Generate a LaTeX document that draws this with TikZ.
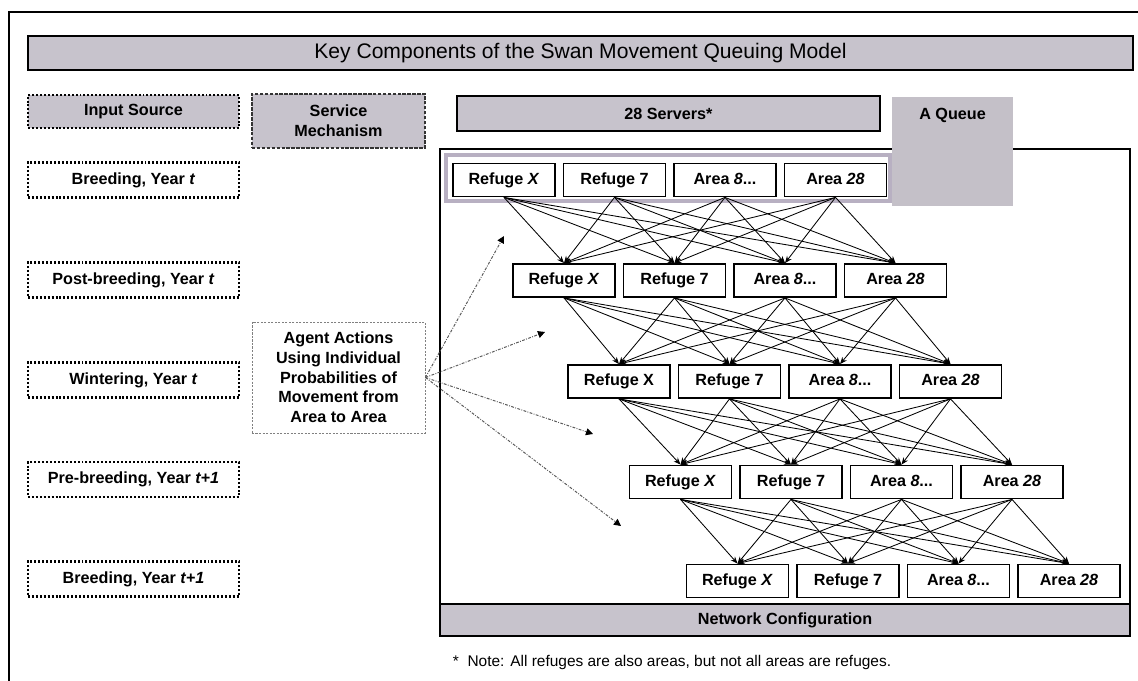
\documentclass[tikz,border=0pt]{standalone}
\usepackage{fontspec}
\setmainfont{Liberation Sans}
\usepackage{tikz}
\usetikzlibrary{calc,arrows.meta}
\usepackage{xcolor}
\definecolor{panelgray}{RGB}{199,195,204}
\definecolor{bandgray}{RGB}{184,176,194}
\definecolor{queuegray}{RGB}{196,192,200}
\newcommand\boxfont{\bfseries\fontsize{11.5}{14}\selectfont}

\begin{document}
\begin{tikzpicture}[x=0.025cm, y=-0.025cm,
  server/.style={draw, line width=1.3pt, fill=white, minimum width=2.55cm, minimum height=0.825cm, inner sep=0pt, text height=8.3pt, text depth=2.4pt, font=\boxfont},
  season/.style={draw, line width=1.5pt, dash pattern=on 1.4pt off 1.4pt, fill=white, minimum width=5.275cm, minimum height=0.875cm, inner sep=0pt, text height=8.3pt, text depth=2.4pt, font=\boxfont},
  panel/.style={draw, line width=1.3pt, fill=panelgray, inner sep=0pt, font=\boxfont},
  flow/.style={line width=0.6pt, -{Stealth[length=5pt,width=4pt]}},
  agentflow/.style={gray!70!black, line width=0.7pt, dash pattern=on 2pt off 1pt on 0.6pt off 1pt, -{Triangle[length=5pt,width=5pt,color=black]}}]
\useasboundingbox (0,0) rectangle (1138,681);
\draw[line width=1.4pt] (9,681) -- (9,12) -- (1138,12);
\node[panel, minimum width=27.625cm, minimum height=0.85cm, font=\fontsize{15}{18}\selectfont] (title) at (580.5,53) {Key Components of the Swan Movement Queuing Model};
\node[panel, line width=1.5pt, dash pattern=on 1.4pt off 1.4pt, minimum width=5.275cm, minimum height=0.825cm] (input) at (133.5,111.5) {Input Source};
\node[panel, line width=1.2pt, draw=black!80, dash pattern=on 2.5pt off 1pt, minimum width=4.325cm, minimum height=1.35cm, align=center] (service) at (338.5,121) {Service\\Mechanism};
\node[panel, minimum width=10.575cm, minimum height=0.875cm] (servers) at (668.5,113.5) {28 Servers*};
\draw[line width=1pt] (440,149) rectangle (1130,636);
\draw[bandgray, line width=2.5pt] (446,155) rectangle (890,201);
\node[fill=queuegray, minimum width=3.025cm, minimum height=2.725cm, inner sep=0pt, label={[anchor=north, yshift=-0.17cm, font=\boxfont]north:A Queue}] (queue) at (952.5,151.5) {};
\node[panel, line width=1pt, minimum width=17.25cm, minimum height=0.8cm] (network) at (785,620) {Network Configuration};
\node[anchor=west, font=\fontsize{11}{13}\selectfont] (note) at (448,662) {*\ \ Note: All refuges are also areas, but not all areas are refuges.};

\node[season] (breed) at (133.5,180) {Breeding, Year \textit{t}};
\node[season] (post) at (133.5,280) {Post-breeding, Year \textit{t}};
\node[season] (winter) at (133.5,380) {Wintering, Year \textit{t}};
\node[season] (pre) at (133.5,479.5) {Pre-breeding, Year \textit{t+1}};
\node[season] (breednext) at (133.5,579) {Breeding, Year \textit{t+1}};

\node[draw=gray, line width=0.6pt, dash pattern=on 1.5pt off 1pt, minimum width=4.325cm, minimum height=2.775cm, inner sep=0pt, align=center, font=\boxfont] (agent) at (338.5,377.5) {Agent Actions\\Using Individual\\Probabilities of\\Movement from\\Area to Area};

\node[server] (r1a) at (504,180) {Refuge \textit{X}};
\node[server] (r1b) at (614.5,180) {Refuge 7};
\node[server] (r1c) at (725,180) {Area \textit{8}...};
\node[server] (r1d) at (835.5,180) {Area \textit{28}};
\node[server] (r2a) at (564,280.5) {Refuge \textit{X}};
\node[server] (r2b) at (674.5,280.5) {Refuge 7};
\node[server] (r2c) at (785,280.5) {Area \textit{8}...};
\node[server] (r2d) at (895.5,280.5) {Area \textit{28}};
\node[server] (r3a) at (619,381.5) {Refuge X};
\node[server] (r3b) at (729.5,381.5) {Refuge 7};
\node[server] (r3c) at (840,381.5) {Area \textit{8}...};
\node[server] (r3d) at (950.5,381.5) {Area \textit{28}};
\node[server] (r4a) at (680.5,482) {Refuge \textit{X}};
\node[server] (r4b) at (791,482) {Refuge 7};
\node[server] (r4c) at (901.5,482) {Area \textit{8}...};
\node[server] (r4d) at (1012,482) {Area \textit{28}};
\node[server] (r5a) at (737.5,581) {Refuge \textit{X}};
\node[server] (r5b) at (848,581) {Refuge 7};
\node[server] (r5c) at (958.5,581) {Area \textit{8}...};
\node[server] (r5d) at (1069,581) {Area \textit{28}};

\foreach \u/\l in {1/2,2/3,3/4,4/5}
  \foreach \i in {a,b,c,d}
    \foreach \j in {a,b,c,d}
      \draw[flow] (r\u\i.south) -- (r\l\j.north);

\coordinate (move1) at (504,236);
\coordinate (move2) at (545,332);
\coordinate (move3) at (593,434);
\coordinate (move4) at (621,526);
\foreach \k in {1,2,3,4}
  \draw[agentflow] (agent.east) -- (move\k);
\end{tikzpicture}
\end{document}
